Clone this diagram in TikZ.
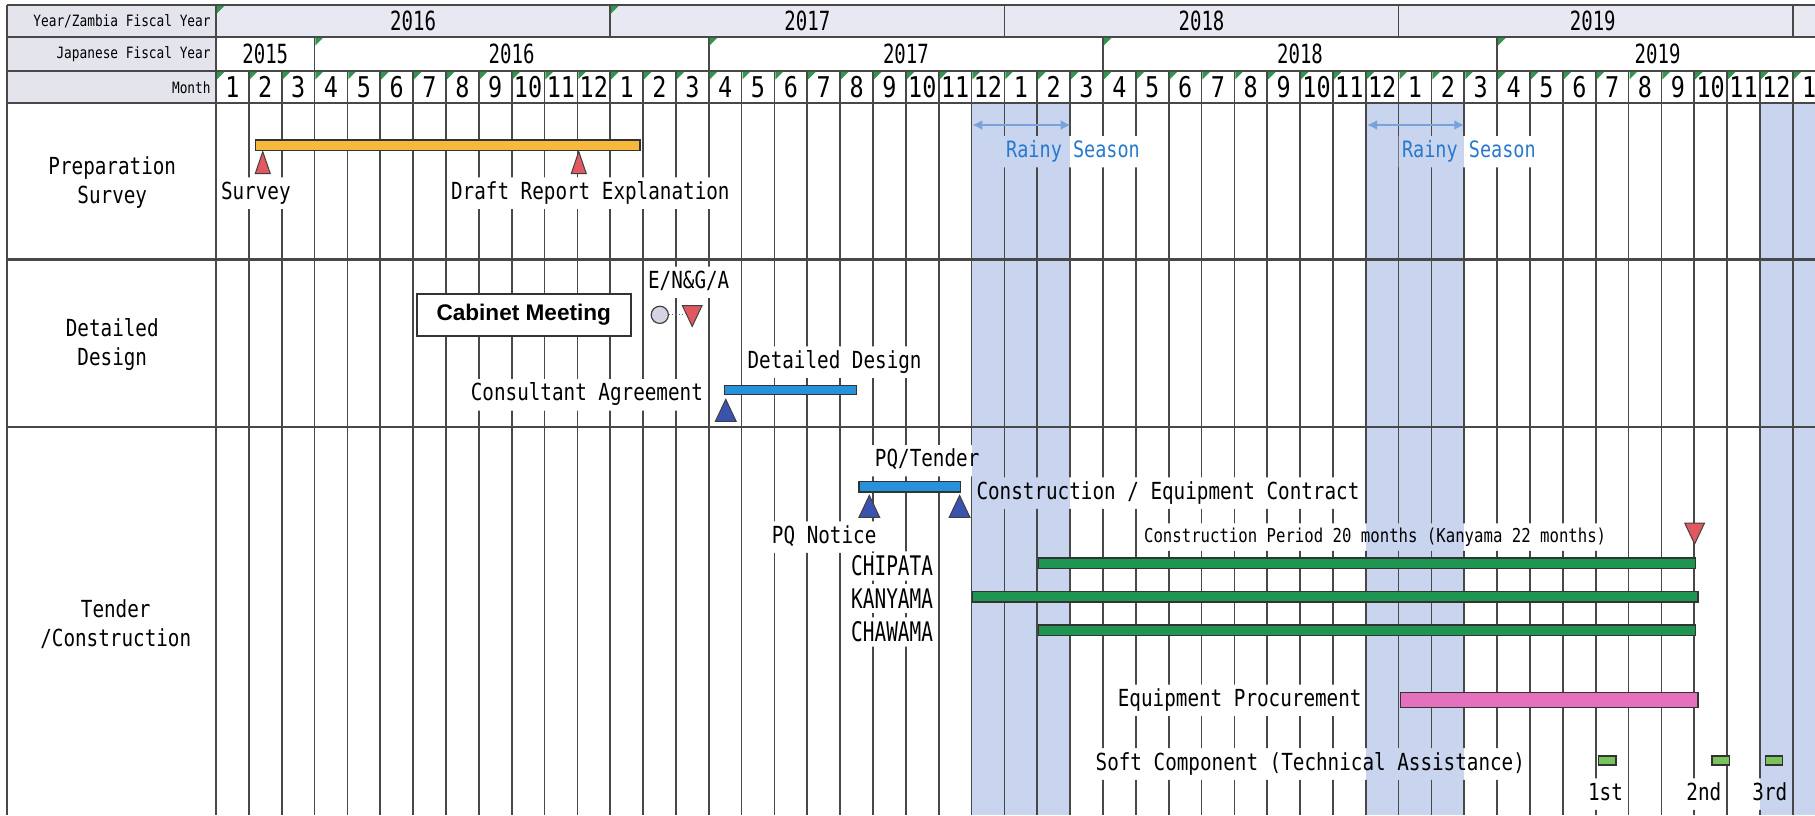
\documentclass[tikz,border=0pt]{standalone}
\usepackage{fontspec}
\usetikzlibrary{arrows.meta}
\newfontfamily\gothic[FakeStretch=0.82]{DejaVu Sans Mono}
\newfontfamily\gothicn[FakeStretch=0.72]{DejaVu Sans Mono}
\newfontfamily\sansf{Liberation Sans}
\definecolor{hdrg}{RGB}{228,228,236}
\definecolor{yrf}{RGB}{232,232,242}
\definecolor{gridc}{RGB}{72,72,72}
\definecolor{rainf}{RGB}{201,212,239}
\definecolor{rainarrow}{RGB}{120,162,218}
\definecolor{raintext}{RGB}{40,120,205}
\definecolor{ybar}{RGB}{246,185,60}
\definecolor{redm}{RGB}{226,88,96}
\definecolor{bbar}{RGB}{40,145,220}
\definecolor{bmark}{RGB}{60,82,175}
\definecolor{gbar}{RGB}{30,150,82}
\definecolor{pbar}{RGB}{228,112,190}
\definecolor{sqc}{RGB}{120,195,90}
\definecolor{circf}{RGB}{212,212,228}
\definecolor{trigc}{RGB}{50,150,80}
\pgfdeclarelayer{bg}
\pgfsetlayers{bg,main}
\begin{document}
\begin{tikzpicture}[x=0.5787pt,y=-0.5787pt,
 gridl/.style={draw=gridc, line width=0.85pt},
 thickl/.style={draw=gridc, line width=1.3pt},
 lbl/.style={font=\gothic\fontsize{11.75}{14}\selectfont, text height=8.6pt, text depth=2.4pt, inner xsep=1.5pt, inner ysep=2.2pt},
 sec/.style={font=\gothic\fontsize{11.75}{14.47}\selectfont, align=center},
 hlab/.style={font=\gothic\fontsize{7.8}{9}\selectfont, inner sep=1pt},
 yr/.style={font=\gothicn\fontsize{13.2}{14}\selectfont, inner sep=0pt},
 mon/.style={font=\gothic\fontsize{14.3}{15}\selectfont, inner sep=0pt},
 rainy/.style={lbl, font=\gothic\fontsize{11.28}{13}\selectfont, text=raintext},
 smalllbl/.style={lbl, font=\gothic\fontsize{9.55}{11}\selectfont, text height=7pt, text depth=2pt},
 capslbl/.style={lbl, font=\gothicn\fontsize{13.48}{15}\selectfont, text height=9.8pt, text depth=0pt},
 bar/.style={draw=black!80, line width=0.65pt},
 rarr/.style={draw=rainarrow, line width=1.4pt, arrows={Latex[length=5pt,width=5pt]-Latex[length=5pt,width=5pt]}},
 pics/uptri/.style 2 args={code={\draw[fill=#1, draw=black!75, line width=0.5pt] (0,0) -- (#2,19) -- (-#2,19) -- cycle;}},
 pics/downtri/.style={code={\draw[fill=#1, draw=black!75, line width=0.5pt] (-8.5,0) -- (8.5,0) -- (0,18) -- cycle;}},
]
\useasboundingbox (0,0) rectangle (1568,704.1);
% header fills
\fill[hdrg] (6,4.3) rectangle (186.6,89);
\fill[yrf] (186.6,4.3) rectangle (1568,32);
% header lines
\draw[thickl] (6,4.3) -- (1568,4.3);
\draw[thickl] (6,32) -- (1568,32);
\draw[thickl] (6,61.3) -- (1568,61.3);
\draw[thickl] (6,4.3) -- (6,704.1);
\draw[gridl] (186.6,4.3) -- (186.6,704.1);
\foreach \k in {12,24,36,48} \draw[gridl] ({186.6+28.38*\k},4.3) -- ({186.6+28.38*\k},32);
\foreach \k in {3,15,27,39} \draw[gridl] ({186.6+28.38*\k},32) -- ({186.6+28.38*\k},61.3);
\foreach \k in {1,...,48} \draw[gridl] ({186.6+28.38*\k},61.3) -- ({186.6+28.38*\k},89);
% green corner marks
\foreach \k in {0,12} \fill[trigc] ({187.4+28.38*\k},5.1) -- ++(6.5,0) -- ++(-6.5,6.5) -- cycle;
\foreach \k in {3,15,27,39} \fill[trigc] ({187.4+28.38*\k},32.8) -- ++(6.5,0) -- ++(-6.5,6.5) -- cycle;
\foreach \k in {0,...,48} \fill[trigc] ({187.4+28.38*\k},62.1) -- ++(6.5,0) -- ++(-6.5,6.5) -- cycle;
% header texts
\node[hlab, anchor=east] (hl1) at (184,18.4) {Year/Zambia Fiscal Year};
\node[hlab, anchor=east] (hl2) at (184,46.8) {Japanese Fiscal Year};
\node[hlab, anchor=east] (hl3) at (184,75.4) {Month};
\node[yr] (z16) at (356.9,18.2) {2016};
\node[yr] (z17) at (697.5,18.2) {2017};
\node[yr] (z18) at (1038,18.2) {2018};
\node[yr] (z19) at (1376,18.2) {2019};
\node[yr] (j15) at (229.2,46.6) {2015};
\node[yr] (j16) at (442,46.6) {2016};
\node[yr] (j17) at (782.6,46.6) {2017};
\node[yr] (j18) at (1123.1,46.6) {2018};
\node[yr] (j19) at (1432,46.6) {2019};
\foreach \k in {0,...,48}{\pgfmathtruncatemacro\m{mod(\k,12)+1}\node[mon] (m\k) at ({186.6+28.38*(\k+0.5)},75.4) {\m};}
% section labels
\node[sec] (ps) at (97,158) {Preparation\\Survey};
\node[sec] (dd) at (97,298) {Detailed\\Design};
\node[sec] (tc) at (100,539) {Tender\\/Construction};
% body labels
\node[lbl] (survey) at (221,167) {Survey};
\node[lbl] (draft) at (510,167) {Draft Report Explanation};
\node[rainy] (rain1) at (927,131) {Rainy Season};
\node[rainy] (rain2) at (1269,131) {Rainy Season};
\node[lbl] (eng) at (595,244) {E/N\&G/A};
\node[lbl] (ddes) at (721,313) {Detailed Design};
\node[lbl] (cons) at (507,341) {Consultant Agreement};
\node[lbl] (pqt) at (801,398) {PQ/Tender};
\node[lbl] (cec) at (1009,426) {Construction / Equipment Contract};
\node[lbl] (pqn) at (712,464) {PQ Notice};
\node[smalllbl] (cper) at (1188,464) {Construction Period 20 months (Kanyama 22 months)};
\node[capslbl, anchor=east] (chip) at (809,489) {CHIPATA};
\node[capslbl, anchor=east] (kany) at (809,517) {KANYAMA};
\node[capslbl, anchor=east] (chaw) at (809,546) {CHAWAMA};
\node[lbl] (eqp) at (1071,605) {Equipment Procurement};
\node[lbl] (soft) at (1132,660) {Soft Component (Technical Assistance)};
\node[lbl] (first) at (1387,686) {1st};
\node[lbl] (second) at (1472,686) {2nd};
\node[lbl] (third) at (1529,686) {3rd};
% background: rainy shading and grid
\begin{pgfonlayer}{bg}
\fill[rainf] (839.3,89) rectangle (924.5,704.1);
\fill[rainf] (1179.9,89) rectangle (1265.0,704.1);
\fill[rainf] (1520.5,89) rectangle (1568,704.1);
\begin{scope}[even odd rule]
\clip (-5,-5) rectangle (1575,710)
 (survey.south west) rectangle (survey.north east)
 (draft.south west) rectangle (draft.north east)
 (rain1.south west) rectangle (rain1.north east)
 (rain2.south west) rectangle (rain2.north east)
 (eng.south west) rectangle (eng.north east)
 (ddes.south west) rectangle (ddes.north east)
 (cons.south west) rectangle (cons.north east)
 (pqt.south west) rectangle (pqt.north east)
 (cec.south west) rectangle (cec.north east)
 (pqn.south west) rectangle (pqn.north east)
 (cper.south west) rectangle (cper.north east)
 (chip.south west) rectangle (chip.north east)
 (kany.south west) rectangle (kany.north east)
 (chaw.south west) rectangle (chaw.north east)
 (eqp.south west) rectangle (eqp.north east)
 (soft.south west) rectangle (soft.north east)
 (first.south west) rectangle (first.north east)
 (second.south west) rectangle (second.north east)
 (third.south west) rectangle (third.north east);
\foreach \k in {1,...,48} \draw[gridl] ({186.6+28.38*\k},89) -- ({186.6+28.38*\k},704.1);
\end{scope}
\end{pgfonlayer}
% section lines
\draw[thickl] (6,89) -- (1568,89);
\draw[thickl] (6,224) -- (1568,224);
\draw[thickl] (6,369) -- (1568,369);
% rainy arrows
\coordinate (ra1) at (840,108); \coordinate (rb1) at (925,108);
\coordinate (ra2) at (1181,108); \coordinate (rb2) at (1265,108);
\draw[rarr] (ra1) -- (rb1);
\draw[rarr] (ra2) -- (rb2);
% preparation survey
\draw[bar, fill=ybar] (221,121) rectangle (553,130);
\pic at (227,131) {uptri={redm}{6.5}};
\pic at (500,131) {uptri={redm}{6.5}};
% detailed design
\node[draw=black!80, line width=0.9pt, fill=white, minimum width=107pt, minimum height=20.8pt, inner sep=0pt, font=\sansf\bfseries\fontsize{11.3}{13}\selectfont] (cab) at (452.5,272) {Cabinet Meeting};
\node[circle, draw=black!75, line width=0.6pt, fill=circf, minimum size=8.6pt, inner sep=0pt] (circ) at (570,272) {};
\coordinate (entri) at (590,272);
\draw[densely dotted, line width=0.6pt, draw=black!60] (circ.east) -- (entri);
\pic at (598,264) {downtri=redm};
\draw[bar, fill=bbar] (626,333) rectangle (740,341);
\pic at (627,345) {uptri={bmark}{9}};
% tender / construction
\draw[bar, fill=bbar] (742,416) rectangle (830,425);
\pic at (751,428) {uptri={bmark}{9}};
\pic at (829,428) {uptri={bmark}{9}};
\pic at (1464,452) {downtri=redm};
\draw[bar, fill=gbar] (897,482) rectangle (1465,491);
\draw[bar, fill=gbar] (840,511) rectangle (1467,520);
\draw[bar, fill=gbar] (897,540) rectangle (1465,549);
\draw[bar, fill=pbar] (1210,598) rectangle (1467,611);
\draw[bar, fill=sqc] (1381,653) rectangle (1396,661);
\draw[bar, fill=sqc] (1479,653) rectangle (1494,661);
\draw[bar, fill=sqc] (1525,653) rectangle (1540,661);
\end{tikzpicture}
\end{document}
